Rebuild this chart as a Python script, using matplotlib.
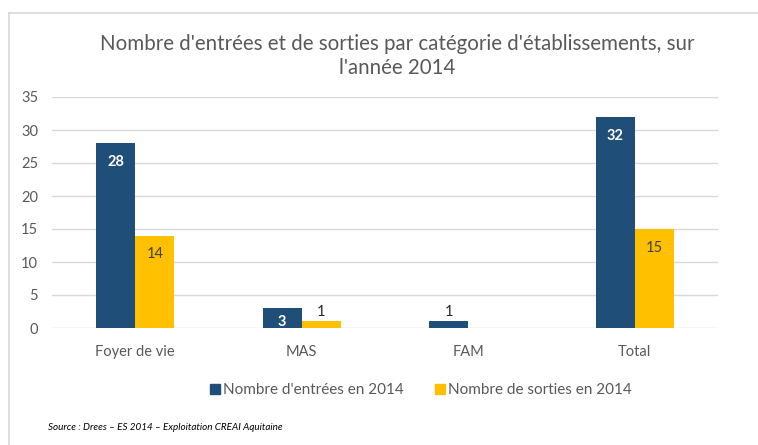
import matplotlib.pyplot as plt
from matplotlib.lines import Line2D
from matplotlib.patches import Patch
import numpy as np

plt.rcParams['font.family'] = ['Lato', 'DejaVu Sans']

# donnees
categories = ['Foyer de vie', 'MAS', 'FAM', 'Total']
entrees = [28, 3, 1, 32]
sorties = [14, 1, 0, 15]
serie_labels = ["Nombre d'entrées en 2014", 'Nombre de sorties en 2014']

bleu = '#1F4E79'
jaune = '#FFC000'
gris = '#595959'

W, H = 758, 445
fig = plt.figure(figsize=(W / 100, H / 100), dpi=100)

# cadre du graphique (coupe a droite et en bas)
fig.add_artist(Line2D([9 / W, 9 / W], [0, 1 - 13 / H], color='#D9D9D9', lw=1.2))
fig.add_artist(Line2D([9 / W, 1], [1 - 13 / H, 1 - 13 / H], color='#D9D9D9', lw=1.2))

ax = fig.add_axes([52 / W, 117 / H, 666 / W, 231 / H])
x = np.arange(len(categories))
w = 0.235
b1 = ax.bar(x - w / 2, entrees, w, color=bleu, zorder=3)
b2 = ax.bar(x + w / 2, sorties, w, color=jaune, zorder=3)

ax.set_xlim(-0.5, len(categories) - 0.5)
ax.set_ylim(0, 35)
ax.set_yticks(range(0, 36, 5))
ax.set_xticks(x)
ax.set_xticklabels(categories)
ax.grid(axis='y', color='#D9D9D9', lw=1, zorder=0)
for s in ax.spines.values():
    s.set_visible(False)
ax.tick_params(length=0, labelsize=10.5, labelcolor=gris)
ax.tick_params(axis='y', pad=10)
ax.tick_params(axis='x', pad=12)


def etiquette(rect, v, couleur, gras):
    cx = rect.get_x() + rect.get_width() / 2
    if v >= 3:
        dy = -13.5 if v >= 5 else -10
        ax.annotate(str(v), (cx, v), xytext=(0, dy), textcoords='offset points',
                    ha='center', va='center', color=couleur,
                    fontweight='bold' if gras else 'normal', fontsize=10.5)
    else:
        ax.annotate(str(v), (cx, v), xytext=(0, 7), textcoords='offset points',
                    ha='center', va='center', color='#262626', fontsize=10.5)


# etiquettes des valeurs
for rect, v in zip(b1, entrees):
    etiquette(rect, v, 'white', True)
for rect, v in zip(b2, sorties):
    if v > 0:
        etiquette(rect, v, '#404040', False)

fig.text(397 / W, 1 - 56 / H,
         "Nombre d'entrées et de sorties par catégorie d'établissements, sur\nl'année 2014",
         ha='center', va='center', fontsize=14.8, color=gris, linespacing=1.3)

handles = [Patch(color=bleu), Patch(color=jaune)]
fig.legend(handles, serie_labels, loc='center', bbox_to_anchor=(421 / W, 1 - 390 / H),
           ncol=2, frameon=False, fontsize=11, labelcolor=gris,
           handlelength=0.65, handleheight=0.65, handletextpad=0.2, columnspacing=2.0)

fig.text(48 / W, 1 - 427 / H, 'Source : Drees – ES 2014 – Exploitation CREAI Aquitaine',
         ha='left', va='center', fontsize=7.1, style='italic', color='black')

fig.savefig('out.png', dpi=100)
